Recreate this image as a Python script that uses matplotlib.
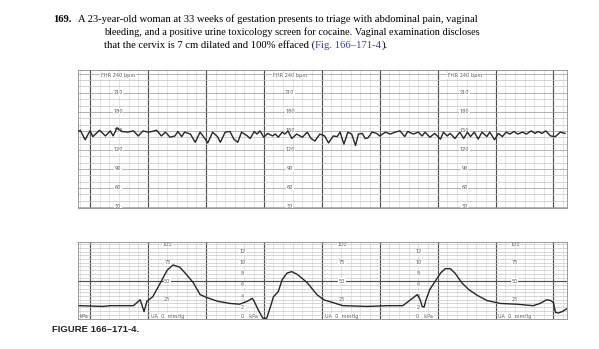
import matplotlib
matplotlib.use("Agg")
import matplotlib.pyplot as plt

# fetal heart rate trace, time in seconds from the first bold minute line
fhr_t = [-12, -10, -5, 0, 3, 10, 16, 21, 24, 28, 33, 39, 45, 50, 55, 60, 64, 69, 74, 78,
         83, 88, 91, 95, 98, 104, 109, 114, 118, 122, 127, 132, 135, 140, 145, 149, 153, 157,
         163, 166, 170, 173, 176, 180, 184, 189, 192, 195, 199, 202, 205, 209, 214, 220, 225,
         229, 233, 238, 243, 247, 252, 256, 259, 263, 267, 271, 275, 278, 282, 285, 288, 292,
         297, 300, 306, 311, 316, 321, 326, 329, 335, 340, 344, 347, 352, 357, 363, 366, 370,
         373, 378, 383, 387, 391, 394, 398, 402, 406, 411, 414, 419, 423, 427, 431, 435, 439,
         443, 448, 452, 457, 461, 464, 468, 472, 477, 482, 487, 492]
fhr_bpm = [149, 151, 136, 150, 141, 151, 142, 150, 142, 155, 149, 148, 150, 142, 150, 148, 149,
           151, 142, 148, 140, 142, 149, 141, 148, 145, 132, 148, 140, 131, 148, 141, 132, 148,
           149, 137, 132, 148, 142, 138, 149, 145, 150, 140, 146, 142, 145, 140, 148, 145, 150,
           138, 145, 140, 148, 138, 134, 145, 142, 131, 142, 141, 148, 129, 148, 145, 127, 145,
           146, 138, 139, 148, 146, 142, 148, 145, 148, 150, 141, 149, 145, 148, 142, 148, 140,
           146, 137, 148, 142, 146, 138, 148, 138, 148, 141, 148, 137, 148, 141, 148, 136, 146,
           141, 148, 145, 149, 145, 148, 145, 150, 146, 149, 146, 150, 142, 141, 148, 146]

# uterine activity trace
ua_t = [-11, 13, 21, 45, 52, 56, 59, 65, 73, 80, 86, 93, 100, 107, 114, 121, 132, 145, 155,
        163, 168, 170, 174, 179, 183, 187, 190, 195, 199, 204, 209, 215, 225, 230, 235, 242,
        252, 262, 287, 308, 324, 332, 339, 342, 344, 346, 348, 352, 357, 363, 368, 373, 378,
        385, 392, 401, 411, 425, 442, 459, 466, 473, 477, 480, 482, 485, 489, 494]
ua_mmhg = [17, 16, 17, 17, 25, 9, 23, 29, 48, 65, 72, 69, 59, 48, 32, 28, 23, 20, 19, 23, 27,
           23, 12, 0, 0, 16, 29, 36, 52, 61, 63, 59, 48, 40, 32, 25, 21, 17, 16, 17, 17, 25,
           32, 25, 16, 15, 25, 39, 49, 61, 67, 67, 61, 48, 39, 31, 24, 20, 19, 17, 20, 25, 24,
           21, 8, 7, 9, 13]

fhr_labels = [210, 180, 150, 120, 90, 60, 30]
fhr_label_t = [29, 207, 388]
ua_labels = [100, 75, 50, 25]
ua_label_t = [80, 261, 440]
kpa_labels = [12, 10, 8, 6, 4, 2]
kpa_label_t = [158, 340]

vminor_c = "#d4d4d4"
hminor_c = "#c2c2c2"
major_c = "#505050"
lab_c = "#5a5a5a"

fig = plt.figure(figsize=(5.99, 3.49), dpi=100)
fig.patch.set_facecolor("white")

# question text
serif = "Liberation Serif"
fs = 7.65
fig.text(53 / 599, 1 - 19 / 349, "169.", fontsize=fs, fontweight="bold", family=serif, va="center")
fig.text(78 / 599, 1 - 19 / 349,
         "A 23-year-old woman at 33 weeks of gestation presents to triage with abdominal pain, vaginal",
         fontsize=fs, family=serif, va="center")
fig.text(104 / 599, 1 - 32 / 349,
         "bleeding, and a positive urine toxicology screen for cocaine. Vaginal examination discloses",
         fontsize=7.4, family=serif, va="center")
t1 = fig.text(104 / 599, 1 - 45 / 349, "that the cervix is 7 cm dilated and 100% effaced (",
              fontsize=fs, family=serif, va="center")
r = fig.canvas.get_renderer()
x1 = t1.get_window_extent(r).x1 / fig.bbox.width
t2 = fig.text(x1, 1 - 45 / 349, "Fig. 166\u2013171-4", fontsize=fs, family=serif, va="center",
              color="#3b3bb8")
x2 = t2.get_window_extent(r).x1 / fig.bbox.width
fig.text(x2, 1 - 45 / 349, ").", fontsize=fs, family=serif, va="center")

fig.text(52 / 599, 1 - 330 / 349, "FIGURE 166\u2013171-4.", fontsize=6.8, fontweight="bold",
         family="Liberation Sans", va="center", color="#222222")

xl = (-12.4, 494)


def paper(ax):
    for s in range(-10, 495, 10):
        major = s % 60 == 0
        ax.axvline(s, color=major_c if major else vminor_c, lw=0.85 if major else 0.45, zorder=1)
    for sp in ax.spines.values():
        sp.set_color("#8a8a8a")
        sp.set_linewidth(0.6)
    ax.set_xticks([])
    ax.set_yticks([])
    ax.set_xlim(xl)


# FHR panel
ax1 = fig.add_axes([78 / 599, 141 / 349, 489 / 599, 138 / 349])
paper(ax1)
for b in range(30, 241, 10):
    ax1.axhline(b, color="#969696" if b % 30 == 0 else hminor_c, lw=0.5, zorder=1)
ax1.set_ylim(28.4, 246)
for tx in fhr_label_t:
    for b in fhr_labels:
        ax1.text(tx, b, str(b), fontsize=3.6, color=lab_c, ha="center", va="center", zorder=2,
                 bbox=dict(facecolor="white", edgecolor="none", pad=0.3))
    ax1.text(tx, 237, "FHR 240 bpm", fontsize=3.6, color=lab_c, ha="center", va="center", zorder=2,
             bbox=dict(facecolor="white", edgecolor="none", pad=0.3))
ax1.plot(fhr_t, fhr_bpm, color="#262626", lw=1.0, zorder=3)

# UA panel
ax2 = fig.add_axes([78 / 599, 30 / 349, 489 / 599, 77 / 349])
paper(ax2)
for m in range(5, 101, 5):
    ax2.axhline(m, color=major_c if m == 50 else hminor_c, lw=0.85 if m == 50 else 0.45, zorder=1)
ax2.set_ylim(-1, 103)
for tx in ua_label_t:
    for m in ua_labels:
        ax2.text(tx, m, str(m), fontsize=3.6, color=lab_c, ha="center", va="center", zorder=2,
                 bbox=dict(facecolor="white", edgecolor="none", pad=0.3))
    ax2.text(tx, 3, "UA  0  mmHg", fontsize=3.6, color=lab_c, ha="center", va="center", zorder=2,
             bbox=dict(facecolor="white", edgecolor="none", pad=0.3))
for tx in kpa_label_t:
    for k in kpa_labels:
        ax2.text(tx, k * 7.5, str(k), fontsize=3.6, color=lab_c, ha="center", va="center", zorder=2,
                 bbox=dict(facecolor="white", edgecolor="none", pad=0.3))
    ax2.text(tx - 2, 3, "0   kPa", fontsize=3.6, color=lab_c, ha="left", va="center", zorder=2,
             bbox=dict(facecolor="white", edgecolor="none", pad=0.3))
ax2.text(-11, 3, "kPa", fontsize=3.6, color=lab_c, ha="left", va="center", zorder=2)
ax2.plot(ua_t, ua_mmhg, color="#262626", lw=1.0, zorder=3)

fig.savefig("out.png", dpi=100, facecolor="white")
